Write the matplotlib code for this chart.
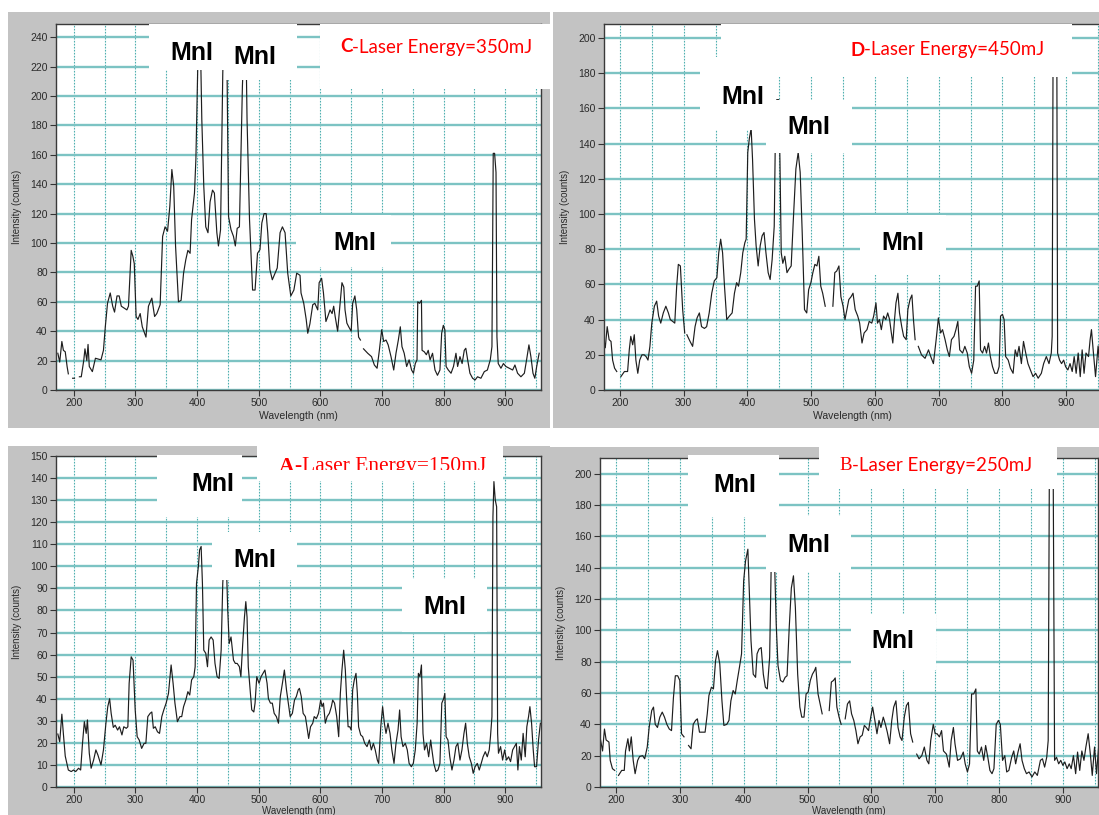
import numpy as np
import matplotlib
matplotlib.use("Agg")
import matplotlib.pyplot as plt
from matplotlib.patches import Rectangle
from matplotlib.ticker import MultipleLocator

nan = np.nan

# ---- spectra (wavelength nm, intensity counts), nan = gap in trace ----
c_wl = [174, 177, 180.5, 183, 186, 189, 191, nan, 198, 201, nan, 209, 212, 216, 218, 221, 223, 225, 230, 235, 240, 244, 248,
        251, 254.6, 259, 263, 266, 270, 273.5, 277, 280.5, 286, 288.6, 293, 295.7, 298, 301, 304, 307.6, 311, 317, 321, 326.5,
        331, 334.6, 340, 344, 348, 352, 355.7, 359, 362, 365, 369.7, 374, 378, 381.6, 385, 388.6, 391, 395.7, 398, 402, 405,
        407.6, 410.8, 414, 417.6, 421, 425, 428, 432, 434.6, 438, 441.6, 443.5, 446.5, 448.6, 451, 455, 459, 462, 465, 468.6,
        473.5, 477, 479, 481, 485, 490, 494, 498, 502, 505, 508.6, 512, 514.6, 518, 522, 526.5, 530, 534.6, 538.4, 542.7, 547,
        552, 557, 561.6, 567, 568.6, 573, 577, 579.5, 583, 587.6, 591, 595.7, 598, 602, 605, 609, 612, 615.7, 619, 621.6, 624,
        628, 632, 635, 638, 640, 643, 646, 650, 652.4, 656, 659, 662, 665, nan, 670, 676.8, 683, 687.6, 692, 695.7, 699.5,
        702.7, 706.5, 710, 714.6, 719, 722.7, 726.5, 729.7, 732.4, 736, 740, 744, 748, 751, 754, 756.8, 758, 761, 764, 765,
        768.6, 772, 775, 778, 782, 786, 790, 794, 796.8, 799.5, 802, 804, 807.6, 812, 816, 820, 822.7, 826.5, 830, 833.5, 836,
        839, 842.7, 847, 851, 855, 860.5, 866, 871, 875.7, 878.4, 880.5, 882.7, 885, 886.5, 888.6, 893, 897, 901, 906.5, 912,
        915.7, 920, 925.4, 931, 934.6, 938.4, 941.6, 945, 948, 951, 955]
c_int = [25, 19, 33, 27, 26, 16, 11, nan, 8, 8, nan, 9, 9, 20, 28, 20, 31, 16, 12.5, 21.6, 21, 20.5, 27,
         43, 59, 66, 57, 53, 64, 64, 57, 56, 54.5, 57, 95, 91, 86, 50, 48, 52, 43, 36, 57, 62.5,
         50, 52, 58, 104.5, 111, 108, 125, 150, 138.6, 98, 60, 61, 79.5, 88.6, 95, 93, 116, 134, 157, 240, 245,
         184, 138.6, 111, 107, 128, 136, 134, 107, 98, 109, 215, 250, 250, 215, 118, 109, 104.5, 98, 110, 111,
         207, 245, 245, 184, 116, 68, 68, 93, 95.5, 113.6, 120, 120, 107, 82, 75, 79.5, 83, 107, 111, 107, 79.5,
         64, 68, 79.5, 78, 66, 59, 48, 38.6, 45, 58, 59, 54.5, 73, 76, 66, 46.6, 50, 54.5, 52, 57, 50,
         40, 59, 73, 70, 54.5, 45.5, 43, 40, 59, 64, 54.5, 36, 34, nan, 28, 25, 22.7, 17, 14.8, 27, 41,
         33, 34, 30.7, 22.7, 13.6, 25, 34, 43, 29.5, 25, 16, 20.5, 13.6, 11.4, 18, 20.5, 60, 59, 61, 27,
         26, 24, 27, 20.5, 25, 13.6, 10, 13.6, 38.6, 44, 41, 16, 13.6, 11.4, 16, 25, 16, 22.7, 18, 27, 28.4,
         20.5, 11.4, 8, 6.8, 9, 8, 12.5, 13.6, 20.5, 29.5, 161, 161, 148, 36, 18, 14.8, 18, 16, 14.8, 13.6,
         17, 11.4, 9, 11.4, 20.5, 30.7, 22.7, 11.4, 8, 16, 25]

d_wl = [174, 177, 180, 183, 186, 188.5, 191.6, 195, nan, 201.5, 207, 212, 214.7, 217, 220, 222.5, 225, 228, 231, 234.5, 238,
        241, 244, 247, 250, 254, 257.6, 260.7, 264, 268, 272, 276, 279, 282.7, 286, 289, 291.6, 294.8, 298.4, 301.6, nan,
        305, 310, 314, 317.8, 321, 324.6, 328, 332.5, 336, 340, 344, 348, 352, 355, 358, 361, 364, 367.5, 371.7, 376, 379.6,
        383, 386, 389.5, 392.7, 396, 398, 400.5, 403, 405.8, 408, 411, 413.6, 416.8, 420, 423, 426, 429, 432.5, 435.6, 438.7,
        442, 444, 446, 449, 451, 453, 455.5, 458.6, 462, 465, 468.6, 472, 476, 479.6, 482.7, 485.9, 489.5, 493, 496, 499.5,
        502.6, 505.8, 509, 512, 515, 518, 522, nan, 534, 537, 540, 543.5, 546.6, 550, 553, 555, 559, 562.5, 565.6, 569, 573,
        576, 579.7, 583, 587.5, 591, 595, 598, 601.6, 604, 607, 610, 613.5, 617, 620, 623, 625.5, 628, 630.7, 633, 636, 638.5,
        642, 645, 649, 651.6, 655, 658, 660.4, 663, nan, 668, 673, 678.6, 684, 687.5, 691.7, 696, 699.5, 703, 706, 710, 713.5,
        716.7, 720, 724, 727, 730, 733, 737.5, 741, 744.8, 748, 751.6, 755, 757.8, 760.4, 763.5, 765.6, 768.8, 772, 775, 778,
        781, 784.4, 788, 791.7, 794.8, 797, 800, 802.6, 805, 809, 812.5, 816.7, 820, 823, 826, 829.7, 833, 836.5, 840, 843.8,
        848, 852, 856, 861, 864.6, 868.8, 873, 876.6, 878, 879.7, 885, 886.5, 889.6, 892.7, 896, 899, 902.6, 906, 909.4,
        912.5, 915.6, 918.8, 922, 925, 928, 931, 935, 937.5, 939.6, 942.7, 946, 950, 954]
d_int = [30.5, 24, 36, 28.6, 27.6, 17, 12.4, 10.5, nan, 7.6, 10.5, 10.5, 23, 30.5, 25.7, 31.4, 17, 9.5, 17, 20, 20,
         19, 17, 24.8, 38, 47.6, 50.5, 42, 38, 43.8, 47.6, 43.8, 40, 39, 38, 59, 71.4, 70.5, 45.7, 32.4, nan,
         31.4, 27.6, 24.8, 36, 41, 43.8, 36, 35, 36, 43.8, 55, 62, 63.8, 78, 85.7, 78, 59, 40, 42, 43.8, 55,
         61, 59, 66.7, 78, 83.8, 85.7, 135, 143, 148.6, 131, 97, 82, 70.5, 82, 87.6, 89.5, 78, 66.7, 62.8, 74,
         93, 150, 165, 165, 130, 78, 72, 76, 66.7, 68.6, 70.5, 97, 125.7, 135, 123.8, 89.5, 45.7, 43.8, 57, 61,
         66.7, 71.4, 70.5, 76, 59, 55, 47.6, nan, 47.6, 66.7, 67.6, 70.5, 53, 47.6, 40, 43.8, 51.4, 53, 55, 45.7, 42,
         38, 26.7, 32.4, 34.3, 39, 38, 42, 49.5, 38, 40, 34.3, 42, 40, 43.8, 40, 33, 26.7, 40, 49.5, 55, 43.8,
         36, 30.5, 28.6, 45.7, 51.4, 54, 40, 28.6, nan, 24.8, 20, 18, 22.8, 19, 15, 28.6, 41, 32.4, 34.3, 28.6, 22.8,
         19, 28.6, 30.5, 34.3, 39, 22.8, 21, 24.8, 21, 13.3, 9.5, 17, 59, 59, 62, 22.8, 21, 24.8, 21, 26.7,
         19, 13.3, 9.5, 9.5, 13.3, 42, 43, 40, 19, 17, 12.4, 9.5, 22.8, 19, 24.8, 15, 27.6, 21, 15, 11.4,
         7.6, 9.5, 6.7, 9.5, 15, 19, 15, 21, 30.5, 230, 230, 21, 17, 15, 17, 13.3, 11.4, 15, 10.5,
         19, 9.5, 21, 7.6, 22.8, 9.5, 21, 19, 28.6, 34.3, 21, 7.6, 25, 8]

a_wl = [174, 177, 180.5, 183, 186, 188.6, 191, 195.7, 199.5, 203, 207.6, 211, 214, 217, 220, 222, 225, 228, 232, 235.7, 239,
        241.6, 244, 248, 252, 255, 258, 260.5, 264, 267, 271, 274, 278, 281, 285, 287.6, 289.7, 293, 296, 299.5, 302.7, 306,
        310, 314, 316.8, 320, 323.8, 326.5, 329, 332, 335.7, 339, 342.7, 346, 349.7, 353.5, 355, 357.8, 361, 364, 368, 372,
        375, 378, 381.6, 385, 388, 391, 394.6, 396.8, 399, 402, 404, 406.5, 408.6, 410.8, 414, 416.8, 419.5, 422.7, 426, 429,
        432.4, 435.7, 439, 441.6, 444, 447, 449.7, 452, 455, 459, 462, 465, 468.6, 471, 474, 476.8, 479, 481, 483, 486,
        488.6, 492, 494, 496.8, 500.5, 503.8, 507, 510, 513.5, 515.7, 519, 522, 525, 528.6, 532, 535, 538.4, 541.6, 545, 548,
        551, 554.6, 558, 561, 564, 566, 569, 572, 575.7, 579, 581, 584, 587.6, 590, 593.5, 597, 600.5, 602.7, 605, 608, 611,
        614.6, 617.8, 620, 623, 626.5, 629.7, 632.4, 635, 637.8, 640.5, 642.7, 645, 647.6, 650, 652.4, 655, 657.8, 660, 662,
        665.4, 668.6, 672, 675.7, 679.5, 682.7, 686, 689, 692.4, 694.6, 698, 701, 703.8, 706.5, 709.7, 713, 716, 719.5, 722.7,
        726, 728.6, 731, 734, 737.8, 741, 744, 747.6, 750.8, 754, 757, 759, 761.6, 764, 766.5, 769, 772.4, 775.7, 779, 781,
        784, 787.6, 790.8, 794, 797, 800, 802, 804, 807, 810, 813.5, 816.8, 820, 823, 826.5, 829.7, 833, 835.7, 838.4, 841.6,
        845, 848, 851, 854.6, 857.8, 861, 864, 867.6, 870.8, 874, 876, 878.4, 880, 881.6, 883.8, 886, 887.6, 889, 892.4,
        895.7, 899, 902, 905.4, 908.6, 912, 915, 918, 920.5, 923, 926, 929, 932.4, 935, 937.8, 940, 942.7, 945.4, 947.6,
        950.8, 954, 957]
a_int = [24, 20.5, 33, 24, 14, 10.7, 7.7, 7, 7.7, 7, 8.5, 7.7, 19.8, 29.6, 24.3, 30.4, 15.3, 8.5, 12.2, 16.8, 14.5,
         12.2, 10, 16.8, 28.9, 36.4, 40, 33.4, 27, 28, 25.8, 27.3, 23.6, 27.3, 26.6, 27.3, 47, 59, 57.5, 35, 22.8, 21.3,
         17.5, 19.8, 19.8, 31.9, 33.4, 34, 26.6, 27.3, 25, 24.3, 31.9, 35, 38, 42.4, 47, 55.3, 47, 38, 29.6, 31.9,
         31.9, 36.4, 39.4, 43.2, 41.7, 48.5, 50, 54.5, 92.3, 99.8, 107.4, 109, 92.3, 62, 60.6, 54.5, 66.6, 68, 66.6, 56,
         50, 49.2, 62, 92.3, 105, 105, 80, 65, 68, 57.5, 56, 56, 54.5, 50, 65, 77, 84, 77, 54.5, 44,
         35, 34, 38, 50, 47, 50, 51.5, 53, 47, 40, 38, 38, 33.4, 31.9, 28.9, 41, 47, 53, 44, 38,
         31.9, 33.4, 39.4, 41, 44, 44.7, 41, 33.4, 31.9, 25.8, 22, 27.3, 28.9, 31.9, 31, 33.4, 39.4, 36.4, 38, 28.9, 31.9,
         33.4, 36.4, 39.4, 38, 31.9, 22.8, 42.4, 53, 62, 53, 39.4, 27.3, 27.3, 25.8, 44, 48.5, 51.5, 42.4, 27.3,
         23.6, 22.8, 19.8, 18.3, 21.3, 16.8, 19.8, 16.8, 12.2, 10.7, 27.3, 36.4, 28.9, 24.3, 28.9, 24.3, 16.8, 10.7, 19.8,
         25.8, 34.9, 22.8, 18.3, 19.8, 16.8, 10.7, 9.2, 10.7, 16.8, 28.9, 51.5, 50, 55.3, 24.3, 16.8, 19.8, 13.7, 21.3, 16.8,
         10.7, 7, 7.7, 10.7, 38, 40, 42.4, 22.8, 21.3, 13.7, 7.7, 12.2, 18.3, 19.8, 12.2, 16.8, 24.3, 28.9, 19.8, 13.7,
         10.7, 6.2, 9.2, 10.7, 7.7, 10.7, 13.7, 16, 13.7, 16.8, 22.8, 31.9, 122.5, 138.4, 130, 127, 24.3, 15.3, 18.3,
         12.2, 16.8, 12.2, 13.7, 11.5, 16.8, 18.3, 19.8, 7.7, 18.3, 12.2, 24.3, 13.7, 27.3, 31.9, 36.4, 28.9, 16.8, 9.2,
         9.2, 21.3, 28.9]

b_wl = [175, 179, 182, 184.6, 189, 191, 194.5, 198, nan, 204, 209, 213, 215, 218.7, 221, 224, 227, 230, 234, 237, 241.8, 245,
        249, 252, 256, 258.8, 261.5, 265, 268.7, 272.5, 276, 279.7, 283.5, 287, 290, 293, 296.7, 300, 302.7, 306.6, nan,
        313.7, 317.6, 321, 324.7, 327.5, 330.8, 335, 339.6, 343, 345.6, 349.5, 352.7, 356, 359, 362.6, 366, 369, 373.6, 377,
        380, 383.5, 386.8, 390, 393.4, 396.7, 400, 403, 406.6, 408.8, 411.5, 415, 418.7, 421, 424, 427.5, 430.8, 434, 437,
        440.7, 443, 445, 448, 451, 453.8, 457.7, 461.5, 465, 468, 471.4, 474.7, 478, 481, 484.6, 488, 491, 494.5, 497.8,
        501, 504.4, 507.7, 511, 513, 516.5, 519.8, 523, nan, 534, 537.4, 540.7, 543.4, 546, 549.5, 552.7, nan, 559, 562.6,
        566, 569, 572.5, 575.8, 579, 582.4, 585.7, 589, 592, 595.6, 599, 602, 605.5, 608.8, 612, 615, 618.7, 622, 625,
        628.6, 632, 635, 638.5, 641.8, 645, 648, 651.6, 655, 658, 661.5, 664.8, nan, 671, 674.7, 679, 683, 687, 690, 693,
        697, 700, 703, 706.6, 710, 713, 717.6, 722, 725, 728.5, 731, 735, 739.5, 744, 747, 750.5, 753.8, 757, 760.4, 763.7,
        766, 769, 772.5, 776, 779, 782.4, 785.7, 789, 792, 795.6, 799, 802, 805.5, 809, 812, 815.4, 819.8, 823, 826, 829.7,
        833, 836, 839.6, 843, 847, 851.6, 856, 860, 864.8, 868, 871.4, 874.7, 877, 879, 884.6, 887, 890, 893.4, 896.7, 900,
        903, 906.6, 910, 913, 916.5, 920, 923, 926.4, 929.7, 933, 936, 939.6, 943, 946, 949.6, 952.7, 956.6]
b_int = [32, 23, 37, 30, 28.7, 17, 11.7, 10.6, nan, 7.4, 10.6, 10.6, 23, 30.8, 23, 32, 17, 8.5, 17, 19.5, 20, 18,
         25.5, 38, 48.8, 51, 40, 38, 44.6, 47.8, 44.6, 40, 37, 36, 57, 71, 71, 68, 34, 32, nan,
         26.5, 24.4, 40, 42.5, 43.5, 35, 35, 35, 46.7, 58.4, 63.7, 62.6, 80.7, 87, 78.6, 55, 39.3, 40, 42.5,
         55, 61.6, 59.4, 68, 76.4, 85, 131.6, 144.4, 151.8, 125, 93.4, 72, 70, 85, 88, 89, 72, 63.7, 62.6,
         82.8, 138, 150, 150, 104, 77.5, 68, 67, 70, 71, 102, 127, 134.8, 114.6, 72, 51, 44.6, 44.6, 59.4,
         60.5, 68, 72, 74.3, 76.4, 59.4, 53, 46.7, nan, 48.8, 67, 68, 69.6, 51, 44.6, 40, nan, 43.5, 53,
         55, 46.7, 42.5, 36, 27.6, 32, 33, 39.3, 38, 36, 44.6, 51, 42.5, 34, 42.5, 38, 44.6, 40, 35,
         27.6, 42.5, 51, 55, 38, 32, 29.7, 44.6, 52, 54, 34, 28.7, nan, 21, 18, 20, 25.5, 17, 14.8, 29.7,
         40, 34, 34, 32, 36, 23, 21, 12.7, 29.7, 38, 27.6, 17, 18, 22.3, 14.8, 9.6, 14.8, 59.4, 59.4, 62.6,
         23, 21, 25.5, 17, 26.5, 19, 10.6, 8.5, 11.7, 40, 42.5, 40, 17, 20, 9.6, 10.6, 19, 23, 14.8, 22.3,
         27.6, 17, 11.7, 8.5, 9.6, 6.4, 9.6, 7.4, 17, 18, 12.7, 19, 29.7, 220, 220, 17, 19, 14.8, 17, 13.8,
         16, 11.7, 14.8, 11.7, 20, 8.5, 22.3, 10.6, 23, 17, 25.5, 34, 21, 7.4, 25.5, 8.5, 28.7]

W, H = 1099, 815
fig = plt.figure(figsize=(W / 100, H / 100), dpi=100)

tick_font = ['Liberation Sans Narrow', 'Liberation Sans', 'DejaVu Sans']


def fx(x):
    return x / W


def fy(y):
    return 1 - y / H


def fig_rect(x0, y0, x1, y1, color, z):
    r = Rectangle((fx(x0), fy(y1)), (x1 - x0) / W, (y1 - y0) / H, transform=fig.transFigure,
                  facecolor=color, edgecolor='none', zorder=z)
    fig.patches.append(r)
    return r


def panel(left, top, right, bottom, wl, inten, xlim, ylim, ystep, xlab_pad=2, xlab_size=7.5):
    ax = fig.add_axes([fx(left), fy(bottom), (right - left) / W, (bottom - top) / H])
    ax.plot(wl, inten, color='#1e1e1e', lw=0.85)
    ax.set_xlim(xlim)
    ax.set_ylim(ylim)
    ax.xaxis.set_major_locator(MultipleLocator(100))
    ax.xaxis.set_minor_locator(MultipleLocator(50))
    ax.yaxis.set_major_locator(MultipleLocator(ystep))
    ax.grid(axis='y', color='#7cc3c3', lw=1.7, zorder=0)
    ax.grid(axis='x', which='both', color='#4fb0b0', lw=0.8, ls=(0, (1.5, 1.2)), zorder=0)
    ax.set_axisbelow(True)
    ax.tick_params(axis='both', which='major', length=4, width=0.8, color='#333333',
                   labelsize=7.5, labelcolor='#2a2a2a', pad=2)
    ax.tick_params(axis='x', which='minor', length=0)
    for lab in ax.get_xticklabels() + ax.get_yticklabels():
        lab.set_family(tick_font)
    for s in ax.spines.values():
        s.set_color('#3a3a3a')
        s.set_linewidth(1.0)
    ax.set_xlabel('Wavelength (nm)', fontsize=xlab_size, family=tick_font, color='#2a2a2a', labelpad=xlab_pad)
    ax.set_ylabel('Intensity (counts)', fontsize=7, family=tick_font, color='#2a2a2a', labelpad=6)
    return ax


def mnI(x, y):
    fig.text(fx(x), fy(y), 'MnI', ha='center', va='center', fontsize=18, fontweight='bold',
             family=['Liberation Sans', 'DejaVu Sans'], color='black', zorder=7)


def energy_label(x, y, letter, rest, letter_family, rest_family, size=13.5, letter_weight='bold', clip=None):
    t1 = fig.text(fx(x), fy(y), letter, ha='left', va='center', fontsize=size, color='#ff0000',
                  family=letter_family, fontweight=letter_weight, zorder=7)
    t2 = fig.text(0, 0, rest, fontsize=size, color='#ff0000', family=rest_family, zorder=7)
    fig.canvas.draw()
    bb = t1.get_window_extent()
    t2.set_position((bb.x1 / fig.bbox.width, fy(y)))
    t2.set_va('center')
    if clip is not None:
        t1.set_clip_path(clip)
        t2.set_clip_path(clip)


# gray screenshot backgrounds
fig_rect(8, 12, 550, 428, '#c3c3c3', -10)
fig_rect(553, 12, 1099, 428, '#c3c3c3', -10)
fig_rect(8, 446, 550, 815, '#c3c3c3', -10)
fig_rect(550, 447, 1099, 815, '#c3c3c3', -10)

panel(56, 24, 541, 390, c_wl, c_int, (171, 958), (0, 249), 20)
panel(604, 24, 1100, 390, d_wl, d_int, (175, 953), (0, 208), 20)
panel(56, 456, 541, 787, a_wl, a_int, (171, 958), (0, 150), 10, xlab_pad=0.5, xlab_size=7)
panel(600, 458, 1098, 787, b_wl, b_int, (175, 955), (0, 210), 20, xlab_pad=0.5, xlab_size=7)

# white label boxes pasted over the plots
for box in [(149, 24, 225, 70), (225, 24, 297, 80), (320, 24, 553, 89), (296, 215, 391, 267),
            (721, 24, 1072, 77), (700, 57, 766, 130), (766, 100, 852, 153), (860, 215, 946, 275),
            (157, 455, 242, 517), (257, 446, 503, 481), (212, 532, 297, 580), (402, 579, 487, 632),
            (688, 455, 779, 517), (819, 447, 1057, 489), (766, 516, 851, 572), (851, 614, 936, 670)]:
    fig_rect(*box, 'white', 5)

mnI(192, 53)
mnI(255, 57)
mnI(355, 243)
mnI(743, 97)
mnI(809, 127)
mnI(903, 243)
mnI(213, 484)
mnI(255, 560)
mnI(445, 607)
mnI(735, 485)
mnI(809, 545)
mnI(893, 641)

sans = ['Lato', 'DejaVu Sans']
serif = ['Liberation Serif', 'DejaVu Serif']
energy_label(340, 47, 'C', '-Laser Energy=350mJ', sans, sans)
energy_label(850, 50, 'D', '-Laser Energy=450mJ', sans, sans)
energy_label(839, 466, 'B', '-Laser Energy=250mJ', serif, sans, letter_weight='normal')
a_clip = fig_rect(257, 446, 503, 470, 'none', 4)
energy_label(279, 467, 'A', '-Laser Energy=150mJ', serif, serif, size=15.5, clip=a_clip)

fig.savefig('out.png', dpi=100)
